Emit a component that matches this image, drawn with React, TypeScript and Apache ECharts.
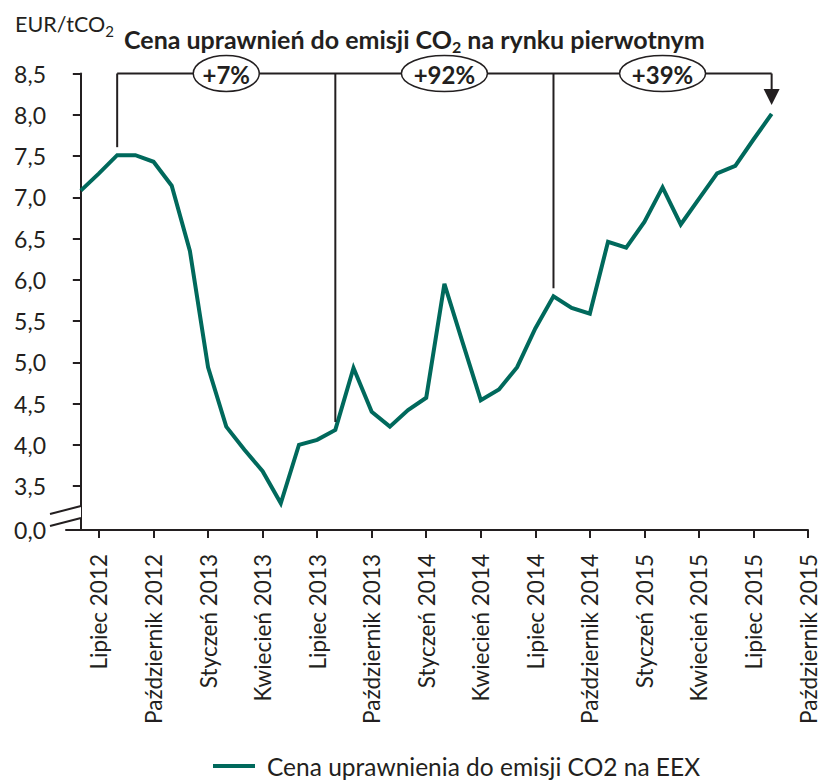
import React, { useEffect, useRef } from "react";
import * as echarts from "echarts";

// Monthly prices, June 2012 (index 0) to August 2015 (index 38)
const months = [
  "2012-06", "2012-07", "2012-08", "2012-09", "2012-10", "2012-11", "2012-12",
  "2013-01", "2013-02", "2013-03", "2013-04", "2013-05", "2013-06", "2013-07", "2013-08", "2013-09", "2013-10", "2013-11", "2013-12",
  "2014-01", "2014-02", "2014-03", "2014-04", "2014-05", "2014-06", "2014-07", "2014-08", "2014-09", "2014-10", "2014-11", "2014-12",
  "2015-01", "2015-02", "2015-03", "2015-04", "2015-05", "2015-06", "2015-07", "2015-08",
];
const prices = [
  7.08, 7.29, 7.51, 7.51, 7.43, 7.14, 6.35,
  4.94, 4.22, 3.94, 3.68, 3.29, 4.0, 4.06, 4.18, 4.93, 4.4, 4.22, 4.42,
  4.57, 5.95, 5.24, 4.54, 4.67, 4.94, 5.41, 5.8, 5.66, 5.59, 6.46, 6.39,
  6.7, 7.12, 6.67, 6.98, 7.29, 7.38, 7.7, 8.01,
];
const tickLabels = [
  "Lipiec 2012", "Październik 2012", "Styczeń 2013", "Kwiecień 2013", "Lipiec 2013",
  "Październik 2013", "Styczeń 2014", "Kwiecień 2014", "Lipiec 2014", "Październik 2014",
  "Styczeń 2015", "Kwiecień 2015", "Lipiec 2015", "Październik 2015",
];
const yTickValues = [3.5, 4, 4.5, 5, 5.5, 6, 6.5, 7, 7.5, 8, 8.5];
const changeLabels = ["+7%", "+92%", "+39%"];
const markerMonths = ["2012-08", "2013-08", "2014-08", "2015-08"];
const seriesName = "Cena uprawnienia do emisji CO2 na EEX";
const titleParts = ["Cena uprawnień do emisji CO", "2", " na rynku pierwotnym"];
const unitParts = ["EUR/tCO", "2"];

const FONT = "Lato";
const INK = "#231f20";
const GREEN = "#00695c";

export default function App() {
  const ref = useRef<HTMLDivElement>(null);
  useEffect(() => {
    if (!ref.current) return;
    const chart = echarts.init(ref.current, null, { renderer: "svg" });
    const yMin = 2.967; // stands for 0,0 below the axis break
    const xMin = -0.815;
    const xMax = 40;
    const tickValues = tickLabels.map((_, k) => 1 + 3 * k);
    const data = prices.map((v, i) => [i, v]);

    chart.setOption({
      animation: false,
      grid: { left: 66, right: 13, top: 73.5, bottom: 252, outerBoundsMode: "none" },
      title: [
        {
          left: 10,
          top: 5,
          text: `{a|${unitParts[0]}}{s|${unitParts[1]}}`,
          textStyle: {
            fontWeight: "normal",
            rich: {
              a: { fontFamily: FONT, fontSize: 21.5, fontWeight: "normal", color: INK, lineHeight: 28, verticalAlign: "middle" },
              s: { fontFamily: FONT, fontSize: 15, fontWeight: "normal", color: INK, lineHeight: 16, verticalAlign: "bottom" },
            },
          },
        },
        {
          left: 119,
          top: 19,
          text: `{a|${titleParts[0]}}{s|${titleParts[1]}}{a|${titleParts[2]}}`,
          textStyle: {
            rich: {
              a: { fontFamily: FONT, fontSize: 25, fontWeight: "bold", color: INK, lineHeight: 30, verticalAlign: "middle" },
              s: { fontFamily: FONT, fontSize: 16, fontWeight: "bold", color: INK, lineHeight: 16, verticalAlign: "bottom" },
            },
          },
        },
      ],
      legend: {
        left: 213,
        top: 753,
        padding: 0,
        icon: "rect",
        itemWidth: 42,
        itemHeight: 4,
        textStyle: { fontFamily: FONT, fontSize: 24.5, lineHeight: 26, color: INK, padding: [0, 0, 0, 7] },
        data: [seriesName],
      },
      xAxis: {
        type: "value",
        min: xMin,
        max: xMax,
        splitLine: { show: false },
        axisLine: { show: true, lineStyle: { color: INK, width: 2 } },
        axisTick: { show: true, length: 8, customValues: tickValues, lineStyle: { color: INK, width: 2 } },
        axisLabel: {
          customValues: tickValues,
          rotate: 90,
          margin: 24,
          fontFamily: FONT,
          fontSize: 22.5,
          color: INK,
          formatter: (v: number) => tickLabels[Math.round((v - 1) / 3)] ?? "",
        },
      },
      yAxis: {
        type: "value",
        min: yMin,
        max: 8.5,
        splitLine: { show: false },
        axisLine: { show: true, lineStyle: { color: INK, width: 2 } },
        axisTick: { show: true, length: 8, customValues: [yMin, ...yTickValues], lineStyle: { color: INK, width: 2 } },
        axisLabel: {
          customValues: [yMin, ...yTickValues],
          margin: 20,
          fontFamily: FONT,
          fontSize: 23,
          color: INK,
          formatter: (v: number) => (v < 3.2 ? "0,0" : v.toFixed(1).replace(".", ",")),
        },
      },
      series: [
        {
          name: seriesName,
          type: "line",
          data,
          showSymbol: false,
          symbol: "none",
          lineStyle: { color: GREEN, width: 4, join: "miter" },
          itemStyle: { color: GREEN },
          z: 3,
        },
      ],
    });

    const px = (x: number, y: number) => chart.convertToPixel({ gridIndex: 0 }, [x, y]) as number[];
    const top = px(0, 8.5)[1];
    const pts = markerMonths.map((m) => {
      const i = months.indexOf(m);
      return px(i, prices[i]);
    });
    const line = (x1: number, y1: number, x2: number, y2: number) => ({
      type: "line",
      shape: { x1, y1, x2, y2 },
      style: { stroke: INK, lineWidth: 2 },
      z: 100,
    });
    const els: any[] = [];
    els.push(line(pts[0][0], top, pts[pts.length - 1][0], top));
    pts.forEach((p, k) => {
      if (k < pts.length - 1) {
        els.push(line(p[0], top, p[0], p[1] - 8));
      } else {
        els.push(line(p[0], top, p[0], p[1] - 24));
        els.push({
          type: "polygon",
          shape: { points: [[p[0] - 8, p[1] - 25], [p[0] + 8, p[1] - 25], [p[0], p[1] - 9]] },
          style: { fill: INK },
          z: 100,
        });
      }
    });
    changeLabels.forEach((t, k) => {
      const cx = (pts[k][0] + pts[k + 1][0]) / 2;
      const rx = 3 + 10 * t.length;
      els.push({
        type: "ellipse",
        shape: { cx, cy: top, rx, ry: 18 },
        style: { fill: "#fff", stroke: INK, lineWidth: 1.5 },
        z: 101,
      });
      els.push({
        type: "text",
        x: cx,
        y: top + 1,
        style: {
          text: t,
          fontFamily: FONT,
          fontSize: 24,
          fontWeight: "bold",
          fill: INK,
          align: "center",
          verticalAlign: "middle",
        },
        z: 102,
      });
    });
    // axis break marks on the y axis
    const o = px(xMin, yMin);
    const ax = o[0];
    const by = o[1];
    els.push({
      type: "polygon",
      shape: { points: [[ax - 16, by - 16], [ax + 15, by - 24], [ax + 15, by - 12], [ax - 16, by - 4]] },
      style: { fill: "#fff" },
      z: 100,
    });
    els.push(line(ax - 16, by - 16, ax + 15, by - 24));
    els.push(line(ax - 16, by - 4, ax + 15, by - 12));
    chart.setOption({ graphic: els });

    return () => chart.dispose();
  }, []);
  return (
    <div
      ref={ref}
      style={{ position: "absolute", left: 0, top: 0, width: 821, height: 782, background: "#fff" }}
    />
  );
}
